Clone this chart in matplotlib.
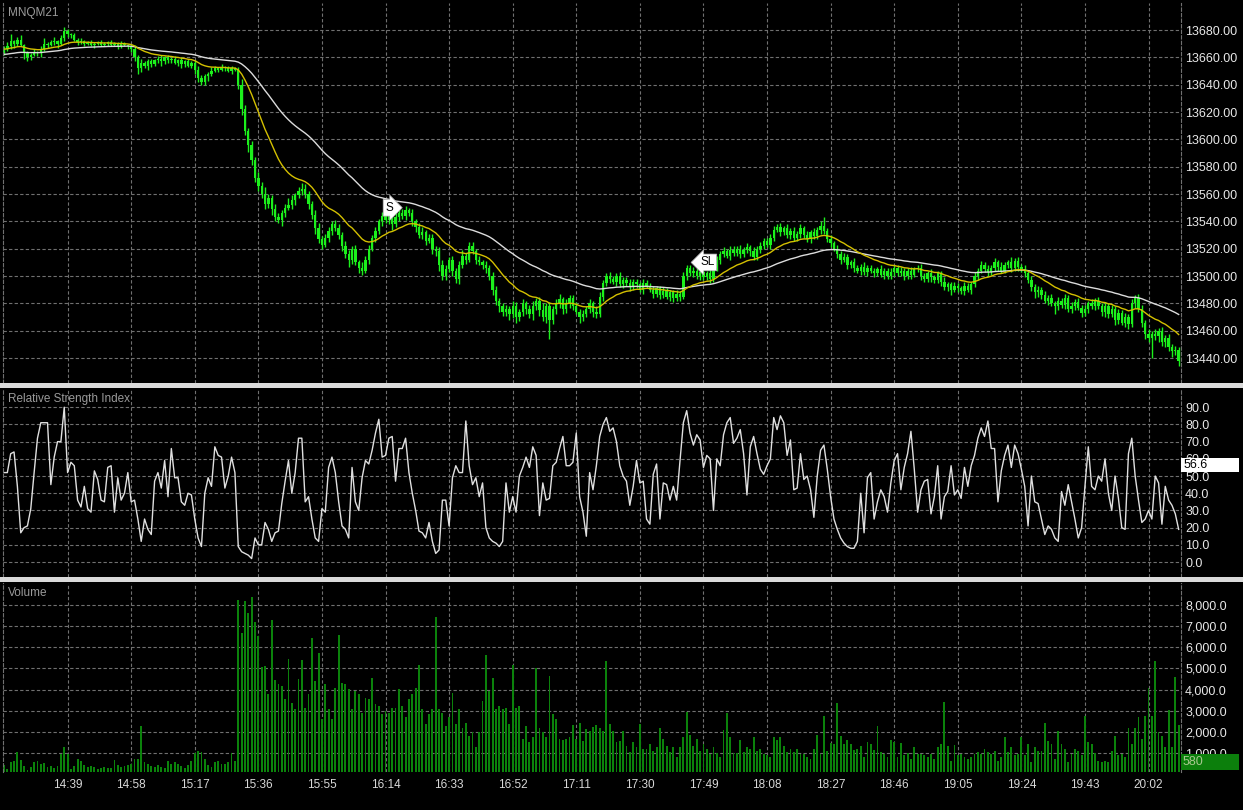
import matplotlib.pyplot as plt
from matplotlib.patches import Rectangle

plt.rcParams['font.family'] = ['Liberation Sans', 'DejaVu Sans']

# --- data (1-minute bars 14:20 .. 20:11) ---
symbol = 'MNQM21'
time_labels = ['14:39', '14:58', '15:17', '15:36', '15:55', '16:14', '16:33', '16:52', '17:11',
               '17:30', '17:49', '18:08', '18:27', '18:46', '19:05', '19:24', '19:43', '20:02']
first_label_bar = 19
label_step = 19

close = [
    13666, 13668, 13672, 13670, 13673, 13669, 13663, 13660, 13662, 13664,
    13663, 13666, 13670, 13669, 13671, 13672, 13670, 13674, 13679, 13677,
    13676, 13673, 13671, 13672, 13670, 13671, 13669, 13670, 13671, 13669,
    13670, 13671, 13669, 13670, 13668, 13670, 13669, 13668, 13666, 13660,
    13652, 13656, 13654, 13657, 13655, 13658, 13659, 13657, 13660, 13658,
    13659, 13656, 13658, 13655, 13657, 13654, 13656, 13651, 13645, 13642,
    13646, 13648, 13650, 13652, 13651, 13653, 13652, 13650, 13652, 13651,
    13640, 13622, 13606, 13596, 13585, 13572, 13566, 13560, 13553, 13557,
    13549, 13543, 13541, 13546, 13550, 13552, 13556, 13559, 13562, 13564,
    13560, 13553, 13545, 13535, 13527, 13523, 13528, 13533, 13538, 13535,
    13530, 13522, 13516, 13512, 13520, 13510, 13506, 13504, 13512, 13520,
    13528, 13533, 13540, 13544, 13541, 13545, 13538, 13543, 13546, 13544,
    13548, 13546, 13540, 13536, 13530, 13532, 13526, 13528, 13520, 13518,
    13508, 13500, 13505, 13512, 13504, 13498, 13508, 13515, 13512, 13522,
    13518, 13512, 13510, 13508, 13506, 13500, 13490, 13482, 13478, 13474,
    13476, 13472, 13478, 13470, 13474, 13480, 13476, 13472, 13478, 13482,
    13475, 13470, 13478, 13468, 13476, 13480, 13483, 13476, 13480, 13484,
    13478, 13474, 13470, 13472, 13476, 13480, 13474, 13472, 13485, 13495,
    13500, 13498, 13496, 13500, 13494, 13497, 13495, 13492, 13496, 13494,
    13490, 13495, 13493, 13490, 13487, 13491, 13486, 13489, 13485, 13488,
    13484, 13487, 13485, 13500, 13506, 13502, 13504, 13500, 13503, 13499,
    13502, 13498, 13506, 13512, 13516, 13518, 13515, 13519, 13517, 13520,
    13516, 13519, 13521, 13518, 13514, 13520, 13522, 13526, 13523, 13528,
    13534, 13536, 13532, 13535, 13530, 13533, 13528, 13531, 13535, 13530,
    13527, 13532, 13529, 13534, 13537, 13533, 13527, 13524, 13520, 13516,
    13512, 13514, 13508, 13510, 13506, 13504, 13507, 13503, 13506, 13504,
    13502, 13505, 13501, 13504, 13500, 13503, 13506, 13502, 13504, 13500,
    13504, 13501, 13505, 13506, 13500, 13498, 13502, 13499, 13497, 13502,
    13496, 13492, 13494, 13490, 13493, 13491, 13489, 13493, 13490, 13494,
    13500, 13504, 13508, 13505, 13503, 13506, 13510, 13507, 13504, 13508,
    13510, 13506, 13511, 13507, 13505, 13502, 13497, 13492, 13488, 13490,
    13486, 13482, 13484, 13480, 13478, 13482, 13479, 13484, 13476, 13478,
    13481, 13477, 13473, 13476, 13480, 13478, 13482, 13478, 13474, 13478,
    13472, 13476, 13468, 13473, 13466, 13470, 13465, 13480, 13484, 13476,
    13466, 13458, 13455, 13458, 13456, 13460, 13452, 13455, 13448, 13445,
    13446, 13438]
open0 = 13664

# wick length above / below the candle body
hi_ext = [
    2, 3, 5, 1, 2, 3, 1, 2, 1, 2,  1, 2, 4, 1, 2, 3, 1, 2, 3, 2,
    1, 2, 1, 2, 1, 1, 2, 1, 1, 2,  1, 1, 2, 1, 1, 2, 1, 1, 2, 3,
    2, 3, 1, 2, 2, 1, 2, 3, 1, 2,  1, 2, 1, 2, 1, 2, 1, 2, 3, 2,
    2, 1, 3, 2, 1, 2, 1, 2, 2, 1,  2, 4, 3, 2, 3, 2, 4, 3, 5, 3,
    2, 4, 3, 2, 3, 5, 3, 2, 3, 4,  3, 2, 2, 3, 4, 2, 3, 3, 2, 3,
    3, 2, 4, 3, 2, 3, 2, 4, 3, 3,  2, 3, 2, 3, 4, 3, 2, 3, 4, 3,
    3, 2, 3, 2, 3, 4, 2, 3, 3, 2,  3, 4, 3, 2, 3, 2, 3, 4, 2, 3,
    3, 2, 3, 2, 3, 2, 3, 3, 2, 2,  3, 2, 4, 3, 2, 3, 2, 3, 4, 2,
    3, 5, 2, 3, 2, 3, 4, 2, 3, 2,  2, 3, 2, 3, 2, 3, 2, 4, 3, 2,
    2, 3, 2, 2, 3, 2, 2, 3, 2, 2,  2, 3, 2, 2, 3, 2, 2, 3, 2, 2,
    2, 3, 2, 3, 2, 2, 3, 2, 2, 3,  2, 3, 2, 3, 2, 3, 2, 3, 3, 2,
    3, 2, 3, 2, 3, 2, 3, 2, 2, 3,  3, 2, 3, 2, 3, 2, 3, 2, 3, 2,
    3, 2, 3, 2, 3, 6, 2, 3, 2, 3,  2, 3, 2, 2, 3, 2, 2, 3, 2, 2,
    2, 2, 3, 2, 2, 3, 2, 2, 3, 2,  2, 3, 2, 2, 3, 2, 2, 3, 2, 2,
    2, 3, 2, 2, 3, 2, 2, 3, 2, 2,  3, 2, 3, 2, 3, 2, 3, 2, 3, 2,
    2, 4, 2, 3, 2, 3, 2, 3, 2, 3,  2, 3, 2, 3, 2, 3, 2, 3, 2, 3,
    2, 3, 2, 3, 2, 3, 2, 3, 2, 3,  2, 3, 2, 3, 2, 3, 2, 3, 2, 3,
    3, 2, 3, 2, 3, 2, 3, 2, 3, 2,  3, 2]
lo_ext = [
    2, 1, 2, 3, 2, 1, 4, 3, 2, 1,  2, 3, 1, 2, 1, 2, 3, 1, 2, 2,
    2, 1, 2, 1, 2, 1, 1, 2, 1, 1,  1, 2, 1, 1, 2, 1, 1, 2, 2, 3,
    4, 3, 2, 3, 2, 1, 2, 3, 2, 2,  2, 1, 2, 3, 2, 1, 2, 3, 3, 2,
    2, 3, 2, 1, 2, 1, 2, 1, 2, 1,  3, 4, 3, 5, 4, 3, 4, 3, 4, 3,
    4, 3, 2, 4, 3, 2, 3, 4, 2, 3,  3, 4, 3, 4, 3, 3, 2, 3, 3, 2,
    3, 4, 3, 5, 3, 2, 4, 3, 2, 3,  2, 3, 2, 3, 2, 3, 4, 2, 3, 2,
    3, 2, 3, 4, 2, 3, 3, 2, 4, 3,  4, 3, 3, 2, 4, 3, 4, 2, 3, 2,
    2, 3, 2, 3, 4, 3, 4, 3, 4, 3,  3, 4, 3, 4, 3, 3, 4, 3, 4, 3,
    4, 3, 4, 14, 3, 4, 3, 4, 3, 3,  3, 2, 4, 3, 2, 3, 4, 3, 2, 3,
    2, 3, 2, 3, 2, 3, 2, 3, 2, 3,  2, 3, 2, 2, 3, 2, 3, 2, 2, 3,
    3, 2, 3, 2, 3, 2, 3, 2, 3, 2,  2, 3, 2, 2, 3, 2, 2, 3, 2, 2,
    3, 2, 2, 3, 2, 2, 3, 2, 2, 3,  2, 2, 3, 2, 2, 3, 2, 2, 3, 2,
    2, 3, 2, 2, 3, 2, 2, 3, 2, 3,  3, 2, 3, 2, 3, 2, 3, 2, 3, 2,
    3, 2, 2, 3, 2, 2, 3, 2, 2, 3,  2, 3, 2, 2, 3, 2, 2, 3, 2, 2,
    3, 2, 3, 4, 2, 3, 2, 3, 2, 3,  2, 3, 2, 2, 3, 2, 2, 3, 2, 2,
    2, 3, 2, 3, 2, 3, 2, 3, 4, 3,  3, 2, 3, 2, 6, 3, 2, 3, 2, 3,
    3, 2, 3, 2, 3, 2, 3, 2, 3, 4,  3, 2, 4, 3, 2, 3, 4, 2, 3, 2,
    3, 4, 3, 15, 3, 4, 3, 4, 3, 4,  3, 4]

rsi = [
    52, 52, 63, 64, 44, 17, 20, 21, 31, 52,  72, 81, 81, 81, 45, 61, 70, 70, 90, 52,
    58, 56, 36, 32, 44, 31, 29, 53, 48, 36,  35, 55, 56, 29, 49, 36, 40, 52, 35, 36,
    25, 12, 25, 19, 16, 47, 52, 43, 59, 38,  66, 49, 49, 35, 33, 40, 39, 25, 14, 9,
    40, 49, 44, 67, 62, 61, 43, 50, 61, 52,  9, 6, 5, 4, 2, 14, 10, 10, 23, 19,
    12, 17, 18, 34, 47, 59, 40, 52, 72, 72,  35, 38, 25, 14, 12, 31, 29, 55, 61, 52,
    35, 21, 19, 14, 55, 35, 30, 49, 59, 57,  65, 75, 83, 61, 62, 72, 73, 47, 66, 66,
    72, 52, 40, 30, 18, 17, 14, 23, 12, 5,  7, 36, 36, 21, 49, 56, 52, 52, 82, 56,
    45, 49, 38, 46, 20, 14, 12, 11, 9, 12,  46, 29, 38, 29, 50, 55, 61, 55, 67, 62,
    27, 46, 36, 37, 56, 58, 66, 73, 56, 56,  58, 75, 38, 29, 15, 52, 42, 56, 73, 80,
    84, 76, 78, 70, 56, 50, 47, 33, 44, 59,  46, 47, 25, 22, 51, 57, 25, 46, 45, 36,
    44, 36, 59, 81, 88, 75, 68, 74, 71, 55,  62, 60, 30, 60, 56, 74, 81, 84, 69, 72,
    77, 63, 39, 67, 73, 63, 54, 51, 56, 60,  84, 77, 85, 81, 62, 71, 42, 43, 63, 48,
    50, 42, 26, 50, 65, 68, 54, 38, 25, 19,  14, 11, 9, 8, 8, 12, 40, 17, 49, 52,
    25, 35, 42, 38, 29, 46, 59, 63, 42, 55,  63, 76, 54, 29, 42, 47, 48, 28, 38, 56,
    25, 38, 41, 56, 39, 42, 37, 55, 44, 56,  62, 72, 78, 73, 82, 66, 66, 35, 53, 62,
    68, 55, 68, 63, 54, 44, 21, 50, 35, 34,  25, 16, 21, 19, 14, 12, 41, 33, 45, 35,
    25, 14, 20, 44, 67, 44, 42, 50, 47, 60,  40, 30, 50, 37, 20, 19, 63, 72, 50, 36,
    23, 25, 30, 25, 50, 46, 22, 44, 36, 33,  28, 19]
last_rsi = 56.6

volume = [
    450, 250, 560, 640, 1030, 670, 400, 200, 330, 560,  640, 480, 520, 330, 360, 300, 400, 950, 1270, 950,
    250, 400, 720, 600, 450, 350, 400, 330, 260, 300,  350, 280, 300, 650, 420, 330, 380, 450, 500, 700,
    700, 2280, 560, 500, 400, 330, 420, 350, 300, 600,  480, 560, 500, 400, 300, 450, 600, 1000, 1100, 1050,
    700, 450, 350, 550, 600, 480, 500, 560, 1000, 600,  8230, 6670, 8190, 7600, 8390, 7210, 6510, 5050, 5100, 3770,
    7290, 4430, 4240, 4160, 3540, 5460, 3380, 3070, 4480, 5410,  3150, 3770, 6460, 4400, 5730, 2600, 4240, 3070, 2600, 4080,
    6560, 4320, 4240, 4010, 3070, 3930, 3770, 2910, 3580, 3540,  4550, 3330, 3220, 2860, 2990, 2910, 3150, 3150, 4010, 3220,
    2680, 3540, 3770, 4080, 5180, 3070, 2360, 2830, 3070, 7450,  3070, 2910, 2280, 2680, 3850, 2360, 3070, 2200, 2440, 1820,
    1970, 1300, 1970, 3460, 5650, 3930, 4550, 3070, 3220, 3070,  3150, 2360, 5150, 3150, 3220, 1660, 2280, 1500, 1740, 5020,
    2200, 1970, 1740, 4630, 2830, 2600, 1660, 1610, 1660, 1740,  2330, 1660, 2440, 1580, 2130, 2050, 2240, 2330, 2200, 2050,
    5340, 2360, 2050, 1500, 1580, 2050, 1350, 1030, 1500, 1270,  2360, 1190, 1190, 1420, 1110, 1270, 2200, 1660, 1350, 1030,
    1270, 800, 1270, 1740, 2960, 1860, 1350, 1660, 1110, 1420,  1190, 950, 1270, 1020, 800, 2080, 2910, 1770, 990, 990,
    1610, 1030, 1270, 1190, 1770, 1110, 1190, 950, 880, 800,  1770, 1610, 1740, 1350, 1030, 1190, 1030, 1190, 950, 950,
    800, 720, 1190, 1860, 950, 2750, 1110, 1450, 1420, 3380,  1820, 1420, 1610, 1420, 1140, 1190, 1350, 800, 1500, 1420,
    1140, 2280, 1030, 950, 800, 1610, 1500, 800, 1450, 880,  990, 720, 1270, 950, 950, 880, 800, 950, 720, 1270,
    1420, 3430, 1350, 640, 1380, 880, 950, 800, 720, 800,  950, 1030, 950, 1190, 1030, 950, 1110, 640, 800, 1740,
    1030, 1270, 880, 950, 1740, 880, 1420, 560, 1270, 1110,  1110, 2440, 1580, 1420, 720, 2020, 1420, 1190, 560, 950,
    1190, 1110, 880, 2750, 1500, 1420, 990, 640, 560, 640,  560, 1110, 1820, 880, 950, 800, 2200, 1420, 2200, 2710,
    1660, 2750, 4050, 2750, 5370, 1970, 1820, 1270, 3020, 1270,  4590, 2330]
last_volume = 580

ema_fast_period, ema_fast_seed = 18, 13666
ema_slow_period, ema_slow_seed = 50, 13662

signal_bar = [114, 208]
signal_price = [13550, 13510]
signal_text = ['S', 'SL']
signal_style = ['rarrow', 'larrow']


def ema(values, period, seed):
    k = 2.0 / (period + 1)
    out, cur = [], seed
    for v in values:
        cur = cur + k * (v - cur)
        out.append(cur)
    return out


n = len(close)
bars = list(range(n))
opens = [open0] + close[:-1]
body_lo = [min(o, c) for o, c in zip(opens, close)]
body_hi = [max(o, c) for o, c in zip(opens, close)]
highs = [b + e for b, e in zip(body_hi, hi_ext)]
lows = [b - e for b, e in zip(body_lo, lo_ext)]
tick_pos = [first_label_bar + label_step * k for k in range(len(time_labels))]

# --- figure layout in pixels ---
W, H = 1243, 810
fig = plt.figure(figsize=(W / 100, H / 100), dpi=100, facecolor='black')


def px_axes(top, bottom):
    return fig.add_axes([3 / W, (H - bottom) / H, 1178 / W, (bottom - top) / H], facecolor='black')


ax_p = px_axes(3, 383)
ax_r = px_axes(389, 577)
ax_v = px_axes(583, 772)

grid_col = '#707070'
for ax in (ax_p, ax_r, ax_v):
    ax.set_xlim(-0.3, n - 0.3)
    ax.set_xticks(tick_pos)
    ax.grid(True, color=grid_col, linestyle=(0, (3, 2)), linewidth=0.8)
    ax.set_axisbelow(True)
    ax.yaxis.tick_right()
    ax.tick_params(axis='both', length=0, colors='#e8e8e8', labelsize=9)
    ax.tick_params(axis='y', pad=3)
    for side in ('top', 'bottom'):
        ax.spines[side].set_visible(False)
    for side in ('left', 'right'):
        ax.spines[side].set_color(grid_col)
        ax.spines[side].set_linestyle((0, (3, 2)))
        ax.spines[side].set_linewidth(0.8)

ax_p.tick_params(labelbottom=False)
ax_r.tick_params(labelbottom=False)

# price panel
candle_col = '#1cf01c'
ax_p.vlines(bars, lows, highs, color=candle_col, linewidth=1.0)
ax_p.bar(bars, [max(h - l, 0.4) for h, l in zip(body_hi, body_lo)], bottom=body_lo,
         width=0.7, color=candle_col, linewidth=0)
ax_p.plot(bars, ema(close, ema_slow_period, ema_slow_seed), color='#dcdcdc', linewidth=1)
ax_p.plot(bars, ema(close, ema_fast_period, ema_fast_seed), color='#d4c000', linewidth=1)
ax_p.set_ylim(13421.8, 13699.75)
pt = list(range(13440, 13681, 20))
ax_p.set_yticks(pt)
ax_p.set_yticklabels([f'{v:.2f}' for v in pt])
for b, p, t, st in zip(signal_bar, signal_price, signal_text, signal_style):
    ax_p.text(b, p, t, ha='left', va='center', fontsize=8.5, color='black', zorder=5,
              bbox=dict(boxstyle=st + ',pad=0.2', fc='white', ec='#b0b0b0', lw=0.5))

# RSI panel
ax_r.plot(bars, rsi, color='#e0e0e0', linewidth=1)
ax_r.set_ylim(-8.7, 100.6)
rt = list(range(0, 91, 10))
ax_r.set_yticks(rt)
ax_r.set_yticklabels([f'{v:.1f}' for v in rt])
tr = ax_r.get_yaxis_transform()
ax_r.add_patch(Rectangle((1.0, last_rsi - 4.1), 58 / 1178, 8.2, transform=tr,
                         fc='white', ec='none', clip_on=False, zorder=5))
ax_r.text(1.0 + 3 / 1178, last_rsi, f'{last_rsi:.1f}', transform=tr, ha='left', va='center',
          fontsize=9, color='black', zorder=6, clip_on=False)

# volume panel
ax_v.bar(bars, volume, width=0.55, color='#0b820b', linewidth=0)
ax_v.set_ylim(99, 9040)
vt = list(range(1000, 8001, 1000))
ax_v.set_yticks(vt)
ax_v.set_yticklabels([f'{v:,.1f}' for v in vt])
ax_v.set_xticklabels(time_labels)
ax_v.tick_params(axis='x', pad=5, labelsize=8.5, colors='#d8d8d8')
tv = ax_v.get_yaxis_transform()
ax_v.add_patch(Rectangle((1.0, last_volume - 380), 58 / 1178, 760, transform=tv,
                         fc='#0c7f0c', ec='none', clip_on=False, zorder=5))
ax_v.text(1.0 + 2 / 1178, last_volume, str(last_volume), transform=tv, ha='left', va='center',
          fontsize=9, color='#a8c890', zorder=6, clip_on=False)

# panel titles
for ax, title in ((ax_p, symbol), (ax_r, 'Relative Strength Index'), (ax_v, 'Volume')):
    ax.annotate(title, xy=(0, 1), xycoords='axes fraction', xytext=(5, -4),
                textcoords='offset pixels', ha='left', va='top', fontsize=8.5, color='#9a9a9a')

# separators between panels
for top in (383, 577):
    fig.patches.append(Rectangle((0, (H - top - 5) / H), 1, 5 / H, transform=fig.transFigure,
                                 fc='#dadada', ec='none'))

fig.savefig('out.png', dpi=100, facecolor='black')
